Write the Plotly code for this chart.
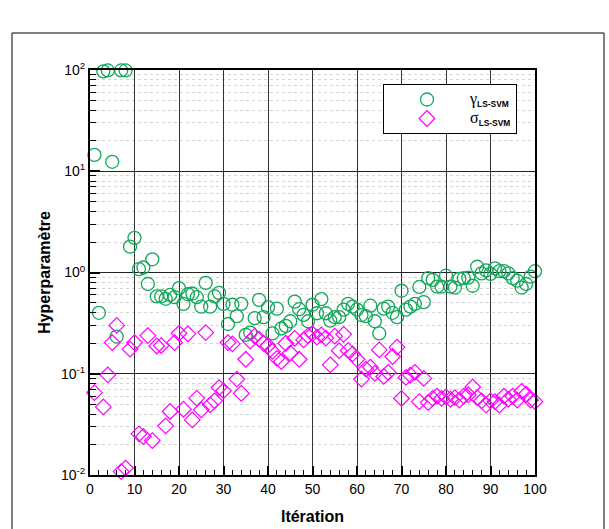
import plotly.graph_objects as go

iterations = list(range(1, 101))

gamma_ls_svm = [
    14.5, 0.40, 97, 99, 12.4, 0.233, 99, 99, 1.8, 2.2,
    1.08, 1.12, 0.77, 1.35, 0.58, 0.58, 0.55, 0.60, 0.57, 0.70,
    0.49, 0.61, 0.62, 0.57, 0.46, 0.79, 0.46, 0.58, 0.63, 0.49,
    0.31, 0.48, 0.37, 0.49, 0.242, 0.255, 0.354, 0.537, 0.362, 0.454,
    0.25, 0.44, 0.28, 0.297, 0.33, 0.516, 0.434, 0.381, 0.33, 0.48,
    0.396, 0.546, 0.396, 0.335, 0.362, 0.362, 0.43, 0.49, 0.46, 0.43,
    0.38, 0.37, 0.47, 0.33, 0.25, 0.44, 0.46, 0.40, 0.362, 0.66,
    0.43, 0.46, 0.49, 0.72, 0.51, 0.88, 0.845, 0.726, 0.726, 0.93,
    0.726, 0.71, 0.865, 0.88, 0.89, 0.74, 1.14, 0.98, 1.05, 0.97,
    1.10, 1.03, 1.03, 0.98, 0.88, 0.83, 0.71, 0.77, 0.91, 1.03,
]

sigma_ls_svm = [
    0.065, None, 0.047, 0.0975, 0.203, 0.30, 0.0108, 0.0117, 0.175, 0.203,
    0.0255, 0.024, 0.238, 0.0219, 0.188, 0.19, 0.0306, 0.0424, 0.203, 0.251,
    0.0446, 0.248, 0.035, 0.0574, 0.044, 0.255, 0.0493, 0.054, 0.073, 0.068,
    0.203, 0.197, 0.0885, 0.064, 0.139, 0.21, 0.235, 0.22, 0.20, 0.19,
    0.166, 0.142, 0.132, 0.20, 0.16, 0.224, 0.139, 0.216, 0.237, 0.248,
    0.23, 0.242, 0.225, 0.1225, 0.235, 0.169, 0.245, 0.17, 0.157, 0.139,
    0.0885, 0.111, 0.116, 0.101, 0.172, 0.094, 0.103, 0.148, 0.183, 0.057,
    0.092, 0.097, 0.103, 0.053, 0.09, 0.052, 0.057, 0.06, 0.057, 0.059,
    0.056, 0.058, 0.055, 0.06, 0.062, 0.074, 0.058, 0.054, 0.049, 0.054,
    0.053, 0.049, 0.06, 0.056, 0.06, 0.055, 0.067, 0.063, 0.055, 0.053,
]

x_tick_vals = list(range(0, 101, 10))
y_tick_vals = [0.01, 0.1, 1, 10, 100]
y_tick_text = ["10<sup>-2</sup>", "10<sup>-1</sup>", "10<sup>0</sup>", "10<sup>1</sup>", "10<sup>2</sup>"]

GREEN = "#12a85a"
MAGENTA = "#ff00ff"
FONT = "Liberation Sans, Arial, sans-serif"

fig = go.Figure()
fig.add_trace(go.Scatter(
    x=iterations, y=gamma_ls_svm, mode="markers", cliponaxis=False,
    name="<span style='font-family:Liberation Serif;font-size:16px'>γ</span><sub><b>LS-SVM</b></sub>",
    marker=dict(symbol="circle-open", size=13, color=GREEN, line=dict(width=1.3, color=GREEN)),
))
fig.add_trace(go.Scatter(
    x=iterations, y=sigma_ls_svm, mode="markers", cliponaxis=False,
    name="<span style='font-family:Liberation Serif;font-size:16px'>σ</span><sub><b>LS-SVM</b></sub>",
    marker=dict(symbol="diamond-open", size=12, color=MAGENTA, line=dict(width=1.2, color=MAGENTA)),
))

# figure fills the whole window (body margin removed in post_script)
W, H = 609, 529
L, T = 90, 70
R = W - 535
B = H - 475
pw, ph = W - L - R, H - T - B

def px2paper_x(px):
    return (px - L) / pw

def py2paper_y(py):
    return (H - B - py) / ph

fig.add_shape(type="rect", xref="paper", yref="paper",
              x0=px2paper_x(12), x1=px2paper_x(604), y0=py2paper_y(545), y1=py2paper_y(33),
              line=dict(color="black", width=1), layer="below")

fig.update_layout(
    width=W, height=H,
    margin=dict(l=L, r=R, t=T, b=B, pad=0),
    paper_bgcolor="white", plot_bgcolor="white",
    font=dict(family=FONT, size=14, color="black"),
    showlegend=True,
    legend=dict(
        x=px2paper_x(383), y=py2paper_y(84), xanchor="left", yanchor="top",
        bgcolor="white", bordercolor="black", borderwidth=1,
        font=dict(family=FONT, size=12, color="black"),
        itemwidth=76, tracegroupgap=0,
    ),
    xaxis=dict(
        range=[0, 100], tickvals=x_tick_vals, automargin=False,
        ticks="inside", ticklen=9, tickwidth=2, tickcolor="black",
        showline=True, linewidth=2, linecolor="black", mirror=True,
        showgrid=True, gridcolor="#333333", gridwidth=1,
        zeroline=False,
        tickfont=dict(size=14),
        minor=dict(dtick=2, ticks="inside", ticklen=5, tickwidth=1, tickcolor="black", showgrid=False),
        title=dict(text="<b>Itération</b>", font=dict(size=16), standoff=15),
    ),
    yaxis=dict(
        type="log", range=[-2, 2], tickvals=y_tick_vals, ticktext=y_tick_text, automargin=False,
        ticks="inside", ticklen=10, tickwidth=2, tickcolor="black",
        showline=True, linewidth=2, linecolor="black", mirror=True,
        showgrid=True, gridcolor="#222222", gridwidth=1,
        zeroline=False,
        tickfont=dict(size=14),
        minor=dict(dtick="D1", ticks="inside", ticklen=6, tickwidth=1, tickcolor="black",
                   showgrid=True, gridcolor="#d4d4d4", griddash="dot", gridwidth=1),
        title=dict(text="<b>Hyperparamètre</b>", font=dict(size=16), standoff=6),
    ),
)

fig.write_html(
    "out.html",
    config={"displayModeBar": False},
    post_script="document.body.style.margin='0';document.body.style.overflow='hidden';",
)
